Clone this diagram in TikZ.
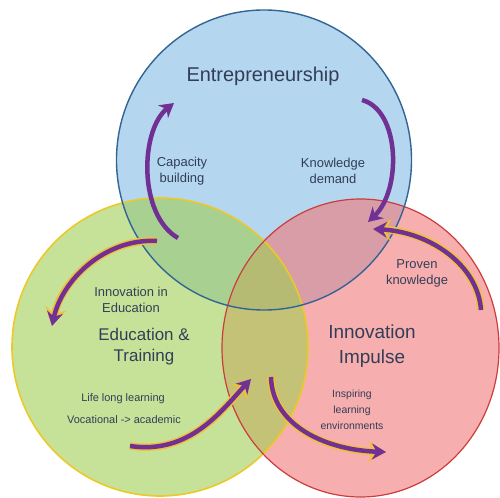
\documentclass[tikz,border=0pt]{standalone}
\usepackage{fontspec}
\setmainfont{Liberation Sans}
\usetikzlibrary{arrows.meta}
\definecolor{entblue}{RGB}{180,214,238}
\definecolor{entrim}{RGB}{50,100,150}
\definecolor{edugreen}{RGB}{160,207,83}
\definecolor{edurim}{RGB}{236,200,40}
\definecolor{innored}{RGB}{242,120,120}
\definecolor{innorim}{RGB}{205,60,60}
\definecolor{swooshpurple}{RGB}{112,48,148}
\definecolor{swooshgold}{RGB}{240,192,60}
\definecolor{labelink}{RGB}{50,62,88}
\tikzset{
  swoosh/.style={draw=swooshpurple,line width=4.5bp,-{Stealth[length=14bp,width=16bp]}},
  goldrim/.style={draw=swooshgold,line width=7.5bp,-{Stealth[length=18bp,width=21bp]}},
  txt/.style={text=labelink,align=center,inner sep=0pt},
  bigtxt/.style={txt,font=\fontsize{19}{25}\selectfont},
  midtxt/.style={txt,font=\fontsize{13}{16}\selectfont},
  smalltxt/.style={txt,font=\fontsize{11}{16}\selectfont}
}
\begin{document}
\begin{tikzpicture}[x=1bp,y=-1bp]
  \useasboundingbox (0,0) rectangle (500,498);
  %% the three circles
  \fill[entblue] (264,160) ellipse [x radius=147.5bp, y radius=150bp];
  \fill[innored,fill opacity=0.6] (360.5,348) ellipse [x radius=138.5bp, y radius=149bp];
  \fill[edugreen,fill opacity=0.6] (160,347) ellipse [x radius=148bp, y radius=149bp];
  \draw[edurim,line width=1.6bp] (160,347) ellipse [x radius=148bp, y radius=149bp];
  \draw[innorim,line width=1.2bp] (360.5,348) ellipse [x radius=138.5bp, y radius=149bp];
  \draw[entrim,line width=1.4bp] (264,160) ellipse [x radius=147.5bp, y radius=150bp];
  %% arrow ends
  \coordinate (capfoot) at (178,238);
  \coordinate (captip) at (174,103);
  \coordinate (demfoot) at (362,100);
  \coordinate (demtip) at (368,222);
  \coordinate (profoot) at (481,310);
  \coordinate (protip) at (373,229);
  \coordinate (edufoot) at (157,241);
  \coordinate (edutip) at (52,326);
  \coordinate (vocfoot) at (130,446);
  \coordinate (voctip) at (251,379);
  \coordinate (insfoot) at (271,377);
  \coordinate (instip) at (386,452);
  %% arrows
  \draw[swoosh] (capfoot) .. controls (138,215) and (140,130) .. (captip);
  \draw[swoosh] (demfoot) .. controls (400,110) and (402,190) .. (demtip);
  \foreach \rim in {goldrim,swoosh} {
    \draw[\rim] (profoot) .. controls (478,265) and (430,232) .. (protip);
    \draw[\rim] (edufoot) .. controls (105,238) and (62,280) .. (edutip);
    \draw[\rim] (vocfoot) .. controls (190,455) and (222,410) .. (voctip);
    \draw[\rim] (insfoot) .. controls (272,425) and (325,450) .. (instip);
  }
  %% labels
  \node[txt,font=\fontsize{20}{24}\selectfont] (ent) at (263,76) {Entrepreneurship};
  \node[midtxt] (capacity) at (182,171) {Capacity\\building};
  \node[midtxt] (demand) at (333,171) {Knowledge\\demand};
  \node[midtxt] (ineduc) at (131,300) {Innovation in\\Education};
  \node[txt,font=\fontsize{17}{21}\selectfont] (edu) at (144,347) {Education \&\\Training};
  \node[smalltxt] (lifelong) at (123,399) {Life long learning};
  \node[smalltxt] (vocational) at (124,420) {Vocational -> academic};
  \node[midtxt] (proven) at (417,273) {Proven\\knowledge};
  \node[bigtxt] (impulse) at (372,346) {Innovation\\Impulse};
  \node[txt,font=\fontsize{10.5}{16}\selectfont] (inspiring) at (352,410) {Inspiring\\learning\\environments};
\end{tikzpicture}
\end{document}
